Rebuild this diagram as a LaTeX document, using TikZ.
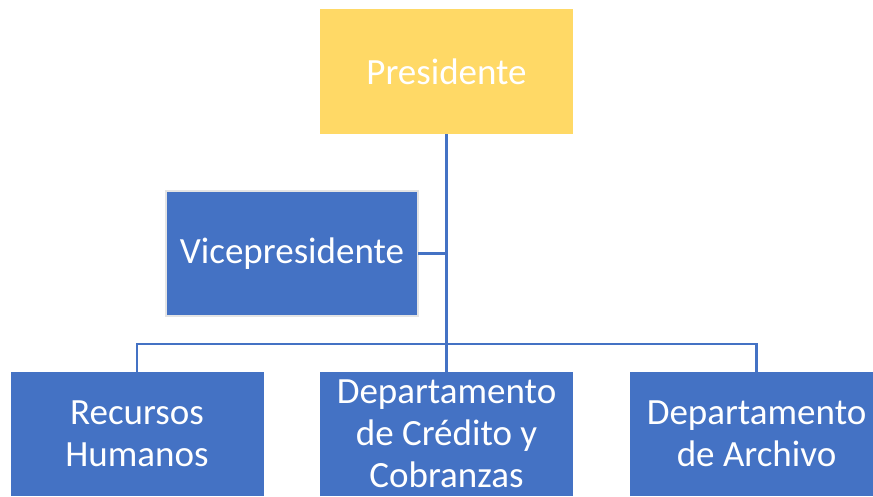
\documentclass[tikz,border=0pt]{standalone}
\usepackage{fontspec}
\setmainfont{Carlito}
\definecolor{orgblue}{HTML}{4472C4}
\definecolor{orgyellow}{HTML}{FFD966}
\definecolor{orgborder}{HTML}{E4E4E4}
\begin{document}
\begin{tikzpicture}[x=1pt,y=-1pt,
  box/.style={rectangle, inner sep=0pt, outer sep=0pt, minimum width=253pt, minimum height=124pt,
    text=white, align=center, font=\fontsize{37}{42}\selectfont},
  bluebox/.style={box, fill=orgblue},
  link/.style={draw=orgblue, line width=2.4pt}]
\useasboundingbox (0,0) rectangle (873,496);
\node[box, fill=orgyellow, minimum height=125pt] (pres) at (446.5,71.5) {Presidente};
\node[bluebox, draw=orgborder, line width=2.5pt, minimum width=252pt, minimum height=125pt] (vice) at (292,253.5) {Vicepresidente};
\node[bluebox] (rh) at (137,434) {Recursos\\Humanos};
\node[bluebox] (cred) at (446.5,434) {Departamento\\de Crédito y\\Cobranzas};
\node[bluebox] (arch) at (756.5,434) {Departamento\\de Archivo};
\coordinate (busL) at (137,344);
\coordinate (busR) at (756.5,344);
\draw[link] (pres.south) -- (pres.south |- busL);
\draw[link] (rh.north) -- (busL) -- (busR) -- (arch.north);
\draw[link] (cred.north) -- (cred.north |- busL);
\draw[link] (vice.east) -- (vice.east -| pres.south);
\end{tikzpicture}
\end{document}
